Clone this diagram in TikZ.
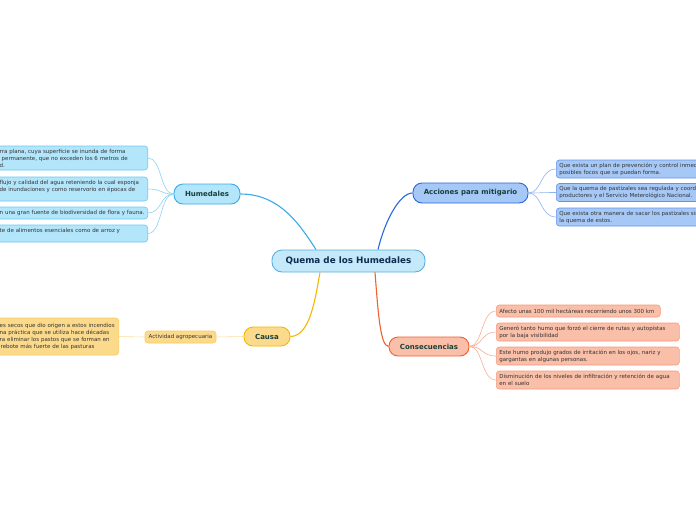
\documentclass[tikz,border=0pt]{standalone}
\usepackage{fontspec}
\setmainfont{DejaVu Sans}
\begin{document}
\begin{tikzpicture}[x=1pt,y=-1pt,
  leaf/.style={draw, rounded corners=3pt, line width=0.6pt, inner xsep=3pt, inner ysep=2.5pt,
    align=left, font=\fontsize{5.5}{7}\selectfont, text=black!80},
  hleaf/.style={leaf, fill=hfill, draw=hleafdraw},
  aleaf/.style={leaf, fill=afill, draw=aleafdraw},
  cleaf/.style={leaf, fill=cfill, draw=cleafdraw},
  kleaf/.style={leaf, fill=kfill, draw=kleafdraw},
  branch/.style={draw, rounded corners=9pt, line width=0.9pt, font=\fontsize{7}{8}\selectfont\bfseries,
    text=titlecol, minimum height=20pt, inner xsep=6pt},
  link/.style={line width=0.6pt},
  mainlink/.style={line width=1.1pt}
]
\definecolor{hfill}{HTML}{B3E5FB}
\definecolor{hdraw}{HTML}{3AAAE8}
\definecolor{hleafdraw}{HTML}{6CCBF3}
\definecolor{hline}{HTML}{8AD4F5}
\definecolor{cenfill}{HTML}{C4E9FA}
\definecolor{cendraw}{HTML}{5AAFE0}
\definecolor{afill}{HTML}{A6C8F6}
\definecolor{adraw}{HTML}{2A68DD}
\definecolor{aleafdraw}{HTML}{6494EA}
\definecolor{aline}{HTML}{8EB4F0}
\definecolor{cfill}{HTML}{F9BFA8}
\definecolor{cdraw}{HTML}{F06030}
\definecolor{cleafdraw}{HTML}{F89A7C}
\definecolor{cline}{HTML}{F9AE96}
\definecolor{kfill}{HTML}{FCDA8C}
\definecolor{kdraw}{HTML}{F5B800}
\definecolor{kleafdraw}{HTML}{F8CC60}
\definecolor{kline}{HTML}{FCE0A4}
\definecolor{titlecol}{HTML}{173F3A}
\definecolor{centitle}{HTML}{102B4E}

\useasboundingbox (0,0) rectangle (696,520);
\clip (0,0) rectangle (696,520);
\fill[white] (0,0) rectangle (696,520);

% central
\node[draw=cendraw, fill=cenfill, rounded corners=10pt, line width=0.9pt, minimum width=153pt, minimum height=22pt,
  font=\fontsize{8.8}{10}\selectfont\bfseries, text=centitle] (c) at (348.5,261) {Quema de los Humedales};

% branches
\node[branch, fill=hfill, draw=hdraw, minimum width=66pt] (hum) at (207,194) {Humedales};
\node[branch, fill=afill, draw=adraw, minimum width=115pt] (acc) at (470.5,193) {Acciones para mitigario};
\node[branch, fill=kfill, draw=kdraw, minimum width=46pt, minimum height=19pt] (cau) at (267,336.5) {Causa};
\node[branch, fill=cfill, draw=cdraw, minimum width=80pt, minimum height=19pt] (con) at (429,346.5) {Consecuencias};

% Humedales leaves
\node[hleaf, text width=145pt, minimum height=24pt, anchor=east] (h1) at (148,158)
  {rra plana, cuya superficie se inunda de forma\\\noindent\kern2pt permanente, que no exceden los 6 metros de\\d.};
\node[hleaf, text width=145pt, minimum height=24pt, anchor=east] (h2) at (148,189)
  {flujo y calidad del agua reteniendo la cual esponja\\de inundaciones y como reservorio en épocas de\\\mbox{}};
\node[hleaf, text width=145pt, minimum height=12pt, anchor=east] (h3) at (148,213)
  {n una gran fuente de biodiversidad de flora y fauna.};
\node[hleaf, text width=145pt, minimum height=17pt, anchor=east] (h4) at (148,233.5)
  {te de alimentos esenciales como de arroz y\\\mbox{}};

% Acciones leaves
\node[aleaf, text width=200pt, minimum height=18pt, anchor=west] (a1) at (556,169)
  {Que exista un plan de prevención y control inmediato\\posibles focos que se puedan forma.};
\node[aleaf, text width=200pt, minimum height=18pt, anchor=west] (a2) at (556,192.5)
  {Que la quema de pastizales sea regulada y coordinada\\productores y el Servicio Meterológico Nacional.};
\node[aleaf, text width=200pt, minimum height=18pt, anchor=west] (a3) at (556,217)
  {Que exista otra manera de sacar los pastizales sin\\la quema de estos.};

% Consecuencias leaves
\node[cleaf, text width=158pt, minimum height=12pt, anchor=west] (k1) at (496,311)
  {Afecto unas 100 mil hectáreas recorriendo unos 300 km};
\node[cleaf, text width=177pt, minimum height=18pt, anchor=west] (k2) at (496,332)
  {Generó tanto humo que forzó el cierre de rutas y autopistas\\por la baja visibilidad};
\node[cleaf, text width=177pt, minimum height=18pt, anchor=west] (k3) at (496,356)
  {Este humo produjo grados de irritación en los ojos, nariz y\\gargantas en algunas personas.};
\node[cleaf, text width=177pt, minimum height=18pt, anchor=west] (k4) at (496,380)
  {Disminución de los niveles de infiltración y retención de agua\\en el suelo};

% Causa chain
\node[kleaf, minimum height=12pt, minimum width=71pt, align=center] (act) at (180.5,337) {Actividad agropecuaria};
\node[kleaf, text width=116pt, minimum height=37pt, anchor=east] (k0) at (119,336.5)
  {es secos que dio origen a estos incendios\\na práctica que se utiliza hace décadas\\ra eliminar los pastos que se forman en\\\noindent\kern1pt rebote más fuerte de las pasturas};

% main connectors
\draw[mainlink, draw=hdraw] (hum.east) .. controls (280,194) and (300,225) .. (c.north -| 316,0);
\draw[mainlink, draw=adraw] (acc.west) .. controls (400,193) and (385,220) .. (c.north -| 378,0);
\draw[mainlink, draw=kdraw] (cau.east) .. controls (310,336) and (315,300) .. (c.south -| 320,0);
\draw[mainlink, draw=cdraw] (con.west) .. controls (380,346) and (378,310) .. (c.south -| 375,0);

% leaf connectors
\foreach \n in {h1,h2,h3,h4}
  \draw[link, draw=hline] (hum.west) .. controls (160,194) and (162,0 |- \n.east) .. (\n.east);
\foreach \n in {a1,a2,a3}
  \draw[link, draw=aline] (acc.east) .. controls (542,193) and (540,0 |- \n.west) .. (\n.west);
\foreach \n in {k1,k2,k3,k4}
  \draw[link, draw=cline] (con.east) .. controls (483,346) and (481,0 |- \n.west) .. (\n.west);
\draw[link, draw=kline] (cau.west) -- (act.east);
\draw[link, draw=kline] (act.west) -- (k0.east);
\end{tikzpicture}
\end{document}
